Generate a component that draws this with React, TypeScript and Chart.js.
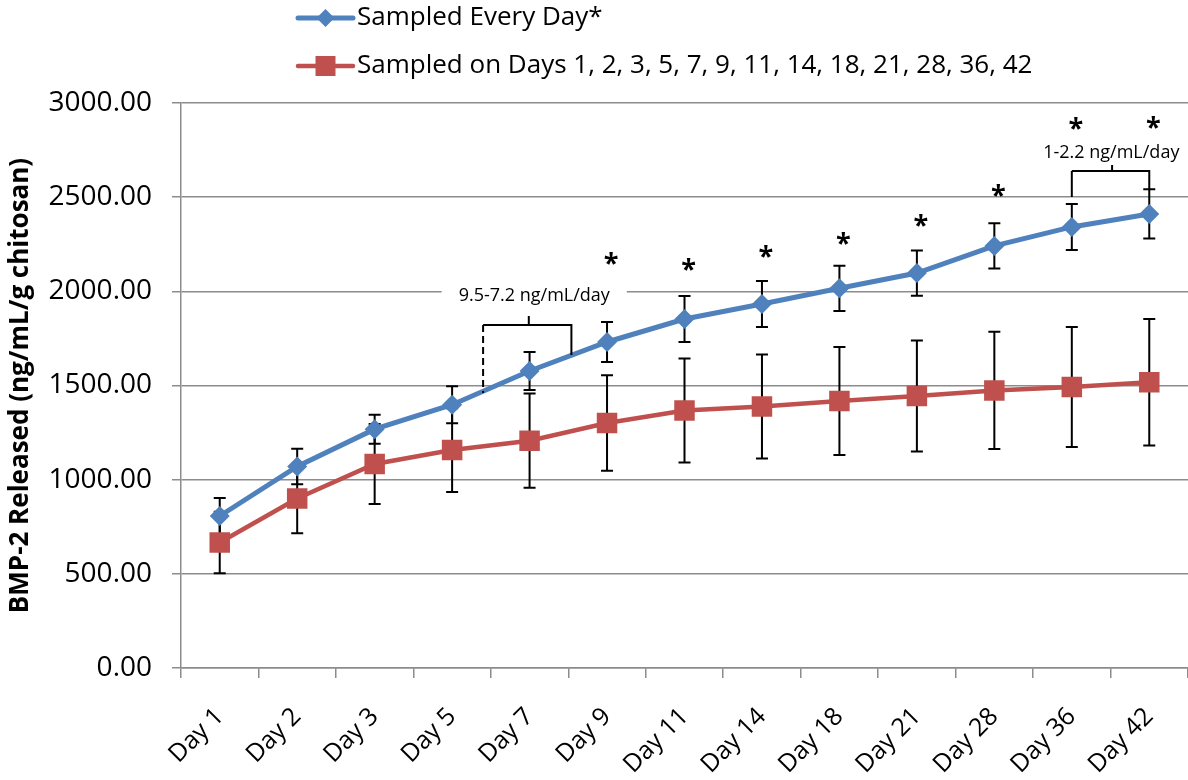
import React, { useEffect, useRef } from 'react';
import { Chart, registerables } from 'chart.js';

Chart.register(...registerables);

// ---------- data ----------
const categories = ['Day 1', 'Day 2', 'Day 3', 'Day 5', 'Day 7', 'Day 9', 'Day 11', 'Day 14', 'Day 18', 'Day 21', 'Day 28', 'Day 36', 'Day 42'];
const everyDayLabel = 'Sampled Every Day*';
const everyDayMean = [807, 1070, 1268, 1398, 1577, 1731, 1853, 1933, 2016, 2097, 2241, 2342, 2411];
const everyDaySD = [96, 94, 77, 98, 101, 106, 122, 122, 120, 120, 120, 122, 131];
const selectedLabel = 'Sampled on Days 1, 2, 3, 5, 7, 9, 11, 14, 18, 21, 28, 36, 42';
const selectedMean = [666, 900, 1083, 1157, 1207, 1301, 1367, 1388, 1418, 1444, 1474, 1492, 1517];
const selectedSD = [163, 185, 212, 222, 250, 253, 276, 276, 287, 295, 311, 318, 336];
const yTickValues = [0, 500, 1000, 1500, 2000, 2500, 3000];
const yAxisTitle = 'BMP-2 Released (ng/mL/g chitosan)';
// significance marks (data units, null = none)
const asteriskLevels: (number | null)[] = [null, null, null, null, null, 2172, 2140, 2209, 2283, 2374, 2533, 2889, 2894];
// rate brackets (category index range, data-unit levels)
const bracketLabels = ['9.5-7.2 ng/mL/day', '1-2.2 ng/mL/day'];
const bracketFrom = [3.4, 11.0];
const bracketTo = [4.54, 12.0];
const bracketTip = [3.99, 11.52];
const bracketLevel = [1821, 2639];
const bracketTipLevel = [1869, 2671];
const bracketLeftEnd = [1460, 2501];
const bracketRightEnd = [1662, 2538];
const bracketTextLevel = [1975, 2735];
const bracketTextCenter = [4.06, 11.51];
const bracketDashedLeft = [true, false];
const bracketClearBehind = [true, false];

const FONT = "'Open Sans', 'DejaVu Sans', sans-serif";
const BLUE = '#4F81BD';
const RED = '#C0504D';
const GRID = '#8c8c8c';

const errorBarPlugin = {
  id: 'errorBars',
  beforeDatasetsDraw(chart: any) {
    const ctx = chart.ctx;
    const yScale = chart.scales.y;
    ctx.save();
    ctx.strokeStyle = '#000';
    ctx.lineWidth = 2;
    chart.data.datasets.forEach((ds: any, di: number) => {
      const meta = chart.getDatasetMeta(di);
      const errs = ds.errors as number[];
      if (!errs) return;
      meta.data.forEach((pt: any, i: number) => {
        const v = ds.data[i];
        const x = pt.x;
        const yt = yScale.getPixelForValue(v + errs[i]);
        const yb = yScale.getPixelForValue(v - errs[i]);
        const cw = 6;
        ctx.beginPath();
        ctx.moveTo(x, yt);
        ctx.lineTo(x, yb);
        ctx.moveTo(x - cw, yt);
        ctx.lineTo(x + cw, yt);
        ctx.moveTo(x - cw, yb);
        ctx.lineTo(x + cw, yb);
        ctx.stroke();
      });
    });
    ctx.restore();
  },
};

const annotationPlugin = {
  id: 'annotations',
  afterDatasetsDraw(chart: any) {
    const ctx = chart.ctx;
    const xs = chart.scales.x;
    const ys = chart.scales.y;
    ctx.save();
    // asterisks
    ctx.fillStyle = '#000';
    ctx.font = `bold 27px ${FONT}`;
    ctx.textAlign = 'center';
    ctx.textBaseline = 'alphabetic';
    asteriskLevels.forEach((lvl, i) => {
      if (lvl === null) return;
      const m = ctx.measureText('*');
      const cx = xs.getPixelForValue(i) + 4;
      const cy = ys.getPixelForValue(lvl);
      const off = (m.actualBoundingBoxAscent - m.actualBoundingBoxDescent) / 2;
      ctx.fillText('*', cx, cy + off);
    });
    // brackets
    bracketLabels.forEach((label, b) => {
      const xL = xs.getPixelForValue(bracketFrom[b]);
      const xR = xs.getPixelForValue(bracketTo[b]);
      const xT = xs.getPixelForValue(bracketTip[b]);
      const yLv = ys.getPixelForValue(bracketLevel[b]);
      const yTp = ys.getPixelForValue(bracketTipLevel[b]);
      const yLE = ys.getPixelForValue(bracketLeftEnd[b]);
      const yRE = ys.getPixelForValue(bracketRightEnd[b]);
      const yTx = ys.getPixelForValue(bracketTextLevel[b]);
      const xTx = xs.getPixelForValue(bracketTextCenter[b]);
      ctx.strokeStyle = '#000';
      ctx.lineWidth = 2;
      ctx.setLineDash([]);
      ctx.beginPath();
      ctx.moveTo(xL, yLv);
      ctx.lineTo(xR, yLv);
      ctx.lineTo(xR, yRE);
      ctx.moveTo(xT, yLv);
      ctx.lineTo(xT, yTp);
      ctx.stroke();
      if (bracketDashedLeft[b]) ctx.setLineDash([7, 4]);
      ctx.beginPath();
      ctx.moveTo(xL, yLv);
      ctx.lineTo(xL, yLE);
      ctx.stroke();
      ctx.setLineDash([]);
      ctx.font = `18px ${FONT}`;
      ctx.textAlign = 'center';
      ctx.textBaseline = 'middle';
      if (bracketClearBehind[b]) {
        const w = ctx.measureText(label).width + 34;
        ctx.fillStyle = '#fff';
        ctx.fillRect(xTx - w / 2, yTx - 14, w, 28);
      }
      ctx.fillStyle = '#000';
      ctx.fillText(label, xTx, yTx);
    });
    ctx.restore();
  },
};

const legendPlugin = {
  id: 'customLegend',
  afterDraw(chart: any) {
    const ctx = chart.ctx;
    ctx.save();
    const rows = [18, 66];
    chart.data.datasets.forEach((ds: any, i: number) => {
      const y = rows[i];
      const x0 = 298;
      const x1 = 353;
      const xm = (x0 + x1) / 2;
      ctx.strokeStyle = ds.borderColor;
      ctx.lineWidth = ds.borderWidth;
      ctx.lineCap = 'round';
      ctx.beginPath();
      ctx.moveTo(x0, y);
      ctx.lineTo(x1, y);
      ctx.stroke();
      ctx.fillStyle = ds.pointBackgroundColor;
      ctx.beginPath();
      if (ds.pointStyle === 'rectRot') {
        const r = 9;
        ctx.moveTo(xm, y - r);
        ctx.lineTo(xm + r, y);
        ctx.lineTo(xm, y + r);
        ctx.lineTo(xm - r, y);
        ctx.closePath();
      } else {
        const h = 10;
        ctx.rect(xm - h, y - h, 2 * h, 2 * h);
      }
      ctx.fill();
      ctx.fillStyle = '#000';
      ctx.font = `26px ${FONT}`;
      ctx.textAlign = 'left';
      ctx.textBaseline = 'middle';
      ctx.fillText(ds.label, 357, y);
    });
    ctx.restore();
  },
};

export default function App() {
  const canvasRef = useRef<HTMLCanvasElement | null>(null);

  useEffect(() => {
    if (!canvasRef.current) return;
    const chart = new Chart(canvasRef.current, {
      type: 'line',
      data: {
        labels: categories,
        datasets: [
          {
            label: everyDayLabel,
            data: everyDayMean,
            errors: everyDaySD,
            borderColor: BLUE,
            backgroundColor: BLUE,
            pointBackgroundColor: BLUE,
            pointBorderColor: BLUE,
            borderWidth: 5,
            pointStyle: 'rectRot',
            pointRadius: 10,
            pointBorderWidth: 0,
            tension: 0,
            fill: false,
          } as any,
          {
            label: selectedLabel,
            data: selectedMean,
            errors: selectedSD,
            borderColor: RED,
            backgroundColor: RED,
            pointBackgroundColor: RED,
            pointBorderColor: RED,
            borderWidth: 4.5,
            pointStyle: 'rect',
            pointRadius: 14.5,
            pointBorderWidth: 0,
            tension: 0,
            fill: false,
          } as any,
        ],
      },
      options: {
        animation: false,
        responsive: true,
        maintainAspectRatio: false,
        layout: { autoPadding: false, padding: { top: 103, right: 0, bottom: 0, left: 0 } },
        plugins: {
          legend: { display: false },
          tooltip: { enabled: false },
        },
        scales: {
          x: {
            type: 'category',
            offset: true,
            grid: { offset: true, drawOnChartArea: false, color: GRID, lineWidth: 1.5, tickLength: 10 },
            border: { color: GRID, width: 1.5 },
            ticks: {
              autoSkip: false,
              maxRotation: 45,
              minRotation: 45,
              color: '#000',
              padding: 24,
              font: { family: FONT, size: 25 },
            },
            afterFit: (s: any) => {
              s.height = 112;
              s.paddingLeft = 0;
              s.paddingRight = 0;
            },
          },
          y: {
            min: 0,
            max: 3000,
            afterBuildTicks: (s: any) => {
              s.ticks = yTickValues.map((v) => ({ value: v }));
            },
            ticks: {
              color: '#000',
              padding: 20,
              font: { family: FONT, size: 28 },
              callback: (v: any) => Number(v).toFixed(2),
            },
            grid: { color: GRID, lineWidth: 1.5, tickLength: 9 },
            border: { color: GRID, width: 1.5 },
            title: {
              display: true,
              text: yAxisTitle,
              color: '#000',
              font: { family: FONT, size: 26, weight: 'bold' },
              padding: { top: 5, bottom: 0 },
            },
            afterFit: (s: any) => {
              s.width = 181;
              s.paddingTop = 0;
              s.paddingBottom = 0;
            },
          },
        },
      },
      plugins: [errorBarPlugin, annotationPlugin, legendPlugin],
    } as any);
    return () => chart.destroy();
  }, []);

  return (
    <div style={{ position: 'absolute', left: 0, top: 0, width: 1188, height: 780 }}>
      <canvas ref={canvasRef} />
    </div>
  );
}
